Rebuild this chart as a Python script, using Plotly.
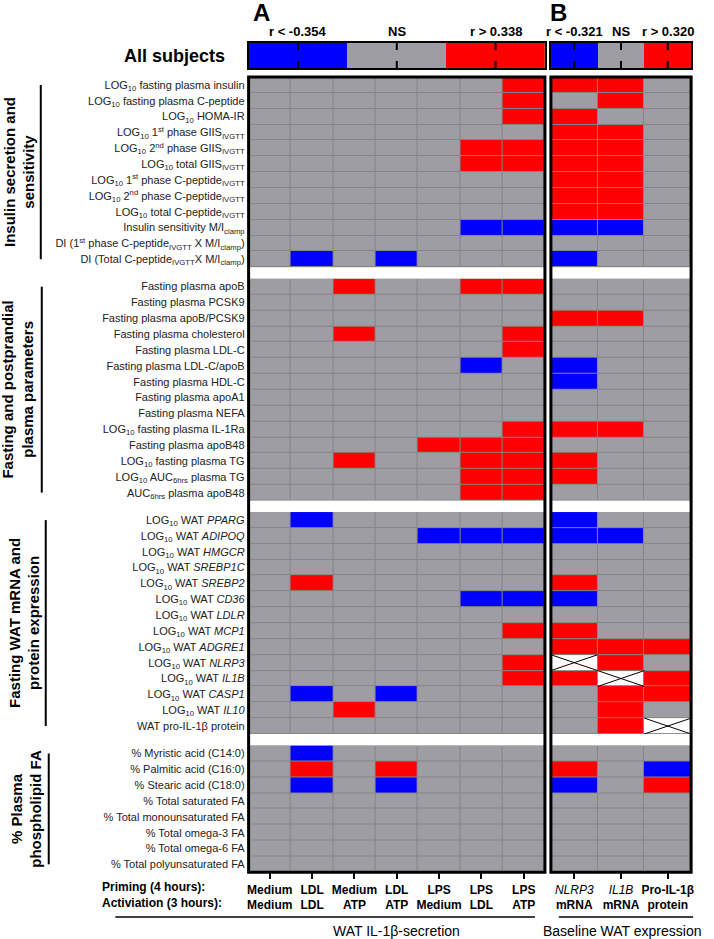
import plotly.graph_objects as go

# codes: -1 = r below negative threshold (blue), 0 = NS (grey), 1 = r above positive threshold (red), None = not done
COLS_A = ["<b>Medium<br>Medium</b>", "<b>LDL<br>LDL</b>", "<b>Medium<br>ATP</b>", "<b>LDL<br>ATP</b>",
          "<b>LPS<br>Medium</b>", "<b>LPS<br>LDL</b>", "<b>LPS<br>ATP</b>"]
COLS_B = ["<i>NLRP3</i><br><b>mRNA</b>", "<i>IL1B</i><br><b>mRNA</b>", "<b>Pro-IL-1β<br>protein</b>"]

LEGEND_CODES = [-1, 0, 1]
LEGEND_A = ["r < -0.354", "NS", "r > 0.338"]
LEGEND_B = ["r < -0.321", "NS", "r > 0.320"]

SECTION_TITLES = ["Insulin secretion and<br>sensitivity",
                  "Fasting and postprandial<br>plasma parameters",
                  "Fasting WAT mRNA and<br>protein expression",
                  "% Plasma<br>phospholipid FA"]

insulin_rows = [
    "LOG<sub>10</sub> fasting plasma insulin",
    "LOG<sub>10</sub> fasting plasma C-peptide",
    "LOG<sub>10</sub> HOMA-IR",
    "LOG<sub>10</sub> 1<sup>st</sup> phase GIIS<sub>IVGTT</sub>",
    "LOG<sub>10</sub> 2<sup>nd</sup> phase GIIS<sub>IVGTT</sub>",
    "LOG<sub>10</sub> total GIIS<sub>IVGTT</sub>",
    "LOG<sub>10</sub> 1<sup>st</sup> phase C-peptide<sub>IVGTT</sub>",
    "LOG<sub>10</sub> 2<sup>nd</sup> phase C-peptide<sub>IVGTT</sub>",
    "LOG<sub>10</sub> total C-peptide<sub>IVGTT</sub>",
    "Insulin sensitivity M/I<sub>clamp</sub>",
    "DI (1<sup>st</sup> phase C-peptide<sub>IVGTT</sub> X M/I<sub>clamp</sub>)",
    "DI (Total C-peptide<sub>IVGTT</sub>X M/I<sub>clamp</sub>)",
]
insulin_a = [
    [0, 0, 0, 0, 0, 0, 1],
    [0, 0, 0, 0, 0, 0, 1],
    [0, 0, 0, 0, 0, 0, 1],
    [0, 0, 0, 0, 0, 0, 0],
    [0, 0, 0, 0, 0, 1, 1],
    [0, 0, 0, 0, 0, 1, 1],
    [0, 0, 0, 0, 0, 0, 0],
    [0, 0, 0, 0, 0, 0, 0],
    [0, 0, 0, 0, 0, 0, 0],
    [0, 0, 0, 0, 0, -1, -1],
    [0, 0, 0, 0, 0, 0, 0],
    [0, -1, 0, -1, 0, 0, 0],
]
insulin_b = [[1, 1, 0], [0, 1, 0], [1, 0, 0], [1, 1, 0], [1, 1, 0], [1, 1, 0],
             [1, 1, 0], [1, 1, 0], [1, 1, 0], [-1, -1, 0], [0, 0, 0], [-1, 0, 0]]

plasma_rows = [
    "Fasting plasma apoB", "Fasting plasma PCSK9", "Fasting plasma apoB/PCSK9",
    "Fasting plasma cholesterol", "Fasting plasma LDL-C", "Fasting plasma LDL-C/apoB",
    "Fasting plasma HDL-C", "Fasting plasma apoA1", "Fasting plasma NEFA",
    "LOG<sub>10</sub> fasting plasma IL-1Ra", "Fasting plasma apoB48",
    "LOG<sub>10</sub> fasting plasma TG", "LOG<sub>10</sub> AUC<sub>6hrs</sub> plasma TG",
    "AUC<sub>6hrs</sub> plasma apoB48",
]
plasma_a = [
    [0, 0, 1, 0, 0, 1, 1],
    [0, 0, 0, 0, 0, 0, 0],
    [0, 0, 0, 0, 0, 0, 0],
    [0, 0, 1, 0, 0, 0, 1],
    [0, 0, 0, 0, 0, 0, 1],
    [0, 0, 0, 0, 0, -1, 0],
    [0, 0, 0, 0, 0, 0, 0],
    [0, 0, 0, 0, 0, 0, 0],
    [0, 0, 0, 0, 0, 0, 0],
    [0, 0, 0, 0, 0, 0, 1],
    [0, 0, 0, 0, 1, 1, 1],
    [0, 0, 1, 0, 0, 1, 1],
    [0, 0, 0, 0, 0, 1, 1],
    [0, 0, 0, 0, 0, 1, 1],
]
plasma_b = [[0, 0, 0], [0, 0, 0], [1, 1, 0], [0, 0, 0], [0, 0, 0], [-1, 0, 0], [-1, 0, 0],
            [0, 0, 0], [0, 0, 0], [1, 1, 0], [0, 0, 0], [1, 0, 0], [1, 0, 0], [0, 0, 0]]

wat_genes = ["PPARG", "ADIPOQ", "HMGCR", "SREBP1C", "SREBP2", "CD36", "LDLR",
             "MCP1", "ADGRE1", "NLRP3", "IL1B", "CASP1", "IL10"]
wat_rows = ["LOG<sub>10</sub> WAT <i>%s</i>" % g for g in wat_genes] + ["WAT pro-IL-1β protein"]
wat_a = [
    [0, -1, 0, 0, 0, 0, 0],
    [0, 0, 0, 0, -1, -1, -1],
    [0, 0, 0, 0, 0, 0, 0],
    [0, 0, 0, 0, 0, 0, 0],
    [0, 1, 0, 0, 0, 0, 0],
    [0, 0, 0, 0, 0, -1, -1],
    [0, 0, 0, 0, 0, 0, 0],
    [0, 0, 0, 0, 0, 0, 1],
    [0, 0, 0, 0, 0, 0, 0],
    [0, 0, 0, 0, 0, 0, 1],
    [0, 0, 0, 0, 0, 0, 1],
    [0, -1, 0, -1, 0, 0, 0],
    [0, 0, 1, 0, 0, 0, 0],
    [0, 0, 0, 0, 0, 0, 0],
]
wat_b = [[-1, 0, 0], [-1, -1, 0], [0, 0, 0], [0, 0, 0], [1, 0, 0], [-1, 0, 0], [0, 0, 0],
         [1, 0, 0], [1, 1, 1], [None, 1, 0], [1, None, 1], [0, 1, 1], [0, 1, 0], [0, 1, None]]

fa_rows = ["% Myristic acid (C14:0)", "% Palmitic acid (C16:0)", "% Stearic acid (C18:0)",
           "% Total saturated FA", "% Total monounsaturated FA", "% Total omega-3 FA",
           "% Total omega-6 FA", "% Total polyunsaturated FA"]
fa_a = [
    [0, -1, 0, 0, 0, 0, 0],
    [0, 1, 0, 1, 0, 0, 0],
    [0, -1, 0, -1, 0, 0, 0],
    [0, 0, 0, 0, 0, 0, 0],
    [0, 0, 0, 0, 0, 0, 0],
    [0, 0, 0, 0, 0, 0, 0],
    [0, 0, 0, 0, 0, 0, 0],
    [0, 0, 0, 0, 0, 0, 0],
]
fa_b = [[0, 0, 0], [1, 0, -1], [-1, 0, 1], [0, 0, 0], [0, 0, 0], [0, 0, 0], [0, 0, 0], [0, 0, 0]]

sections = [(insulin_rows, insulin_a, insulin_b), (plasma_rows, plasma_a, plasma_b),
            (wat_rows, wat_a, wat_b), (fa_rows, fa_a, fa_b)]

# ---- geometry (pixels) ----
W, H = 714, 939
TOP, ROW_H, GAP = 77, 15.85, 11.5
PANEL_X = [(249, 547), (553, 694)]
BLUE, GREY, RED, GRIDC = "#0000ff", "#9d9da3", "#ff0000", "#858585"
FONT = "Arial, Liberation Sans, sans-serif"


def px(x):
    return x / W


def py(y):
    return 1 - y / H


scale = [[0, BLUE], [0.1667, BLUE], [0.1667, GREY], [0.5, GREY], [0.5, RED],
         [0.8333, RED], [0.8333, "white"], [1, "white"]]

fig = go.Figure()
layout = {}
sec_bounds = []
y0 = TOP
for s, (rows, da, db) in enumerate(sections):
    y1 = y0 + len(rows) * ROW_H
    sec_bounds.append((y0, y1))
    for p, (data, cols) in enumerate([(da, COLS_A), (db, COLS_B)]):
        k = p * 4 + s + 1
        xa = "x" if k == 1 else "x%d" % k
        ya = "y" if k == 1 else "y%d" % k
        z = [[2 if v is None else v for v in r] for r in data]
        fig.add_trace(go.Heatmap(z=z, x=list(range(len(cols))), y=list(range(len(rows))),
                                 xaxis=xa, yaxis=ya, colorscale=scale, zmin=-1, zmax=2,
                                 showscale=False, xgap=1, ygap=1, hoverinfo="skip"))
        # crosses for cells that were not measured
        xs, ys = [], []
        for i, r in enumerate(data):
            for j, v in enumerate(r):
                if v is None:
                    xs += [j - 0.5, j + 0.5, None, j - 0.5, j + 0.5, None]
                    ys += [i - 0.5, i + 0.5, None, i + 0.5, i - 0.5, None]
        if xs:
            fig.add_trace(go.Scatter(x=xs, y=ys, mode="lines", xaxis=xa, yaxis=ya,
                                     line=dict(color="black", width=1), hoverinfo="skip"))
        bottom = s == len(sections) - 1
        layout["xaxis" if k == 1 else "xaxis%d" % k] = dict(
            domain=[px(PANEL_X[p][0]), px(PANEL_X[p][1])], anchor=ya,
            range=[-0.5, len(cols) - 0.5], showgrid=False, zeroline=False,
            tickvals=list(range(len(cols))), ticktext=cols, showticklabels=bottom, tickangle=0,
            ticks="outside" if bottom else "", ticklen=6, tickwidth=2, tickcolor="black",
            tickfont=dict(size=12, color="black", family=FONT))
        layout["yaxis" if k == 1 else "yaxis%d" % k] = dict(
            domain=[py(y1), py(y0)], anchor=xa, range=[len(rows) - 0.5, -0.5],
            showgrid=False, zeroline=False, tickvals=list(range(len(rows))), ticktext=rows,
            showticklabels=(p == 0), ticks="", ticklabelstandoff=3,
            tickfont=dict(size=11, color="#222", family=FONT))
    y0 = y1 + GAP
BOTTOM = sec_bounds[-1][1]

# legend bars
for p, labels in enumerate([LEGEND_A, LEGEND_B]):
    k = 9 + p
    lx = list(range(len(LEGEND_CODES)))
    fig.add_trace(go.Heatmap(z=[LEGEND_CODES], x=lx, y=[0],
                             xaxis="x%d" % k, yaxis="y%d" % k, colorscale=scale, zmin=-1, zmax=2,
                             showscale=False, hoverinfo="skip"))
    # small tick marks at the middle of each colour block, top and bottom edges
    fig.add_trace(go.Scatter(x=lx + lx, y=[-0.5] * len(lx) + [0.5] * len(lx), mode="markers",
                             xaxis="x%d" % k, yaxis="y%d" % k, hoverinfo="skip",
                             marker=dict(symbol="line-ns", size=10, line=dict(color="black", width=2))))
    layout["xaxis%d" % k] = dict(domain=[px(PANEL_X[p][0]), px(PANEL_X[p][1])], anchor="y%d" % k,
                                 range=[-0.5, 2.5], showticklabels=False, ticks="",
                                 showline=True, linewidth=2, linecolor="black", mirror=True,
                                 showgrid=False, zeroline=False)
    layout["yaxis%d" % k] = dict(domain=[py(68), py(43)], anchor="x%d" % k, range=[-0.5, 0.5],
                                 showticklabels=False, ticks="", showline=True, linewidth=2,
                                 linecolor="black", mirror=True, showgrid=False, zeroline=False)

annotations = []
for p, labels in enumerate([LEGEND_A, LEGEND_B]):
    for i, t in enumerate(labels):
        annotations.append(dict(x=i, y=py(31), xref="x%d" % (9 + p), text="<b>%s</b>" % t,
                                font=dict(size=13)))
annotations += [
    dict(x=px(262), y=py(13), text="<b>A</b>", font=dict(size=24)),
    dict(x=px(561), y=py(13), text="<b>B</b>", font=dict(size=24)),
    dict(x=px(174), y=py(56), text="<b>All subjects</b>", font=dict(size=18)),
    dict(x=px(100), y=py(895), text="<b>Priming (4 hours):<br>Activiation (3 hours):</b>",
         xanchor="left", align="left", font=dict(size=12)),
    dict(x=px(398), y=py(931), text="WAT IL-1β-secretion", font=dict(size=14)),
    dict(x=px(624), y=py(931), text="Baseline WAT expression", font=dict(size=14)),
]
title_x = [18, 17, 23, 26]
line_x = [40, 41, 45, 48]
shapes = []
for s, (yt, yb) in enumerate(sec_bounds):
    annotations.append(dict(x=px(title_x[s]), y=py((yt + yb) / 2), text="<b>%s</b>" % SECTION_TITLES[s],
                            textangle=-90, font=dict(size=15)))
    shapes.append(dict(type="line", xref="paper", yref="paper", x0=px(line_x[s]), x1=px(line_x[s]),
                       y0=py(yt + 8), y1=py(yb - 8), line=dict(color="black", width=2)))
for a in annotations:
    a.setdefault("xref", "paper")
    a.setdefault("yref", "paper")
    a.setdefault("xanchor", "center")
    a.setdefault("yanchor", "middle")
    a["showarrow"] = False
    a["font"] = dict(family=FONT, color="black", size=a["font"]["size"])

# panel frames and group lines
for x0, x1 in PANEL_X:
    shapes.append(dict(type="rect", xref="paper", yref="paper", x0=px(x0), x1=px(x1),
                       y0=py(BOTTOM), y1=py(TOP), line=dict(color="black", width=3)))
shapes.append(dict(type="line", xref="paper", yref="paper", x0=px(115), x1=px(537), y0=py(917), y1=py(917),
                   line=dict(color="black", width=1.5)))
shapes.append(dict(type="line", xref="paper", yref="paper", x0=px(561), x1=px(696), y0=py(917), y1=py(917),
                   line=dict(color="black", width=1.5)))

fig.update_layout(width=W, height=H, margin=dict(l=0, r=0, t=0, b=0), showlegend=False,
                  plot_bgcolor=GRIDC, paper_bgcolor="white", font=dict(family=FONT),
                  annotations=annotations, shapes=shapes, **layout)
fig.write_html("out.html", config={"displayModeBar": False},
               post_script="document.body.style.margin='0';")
